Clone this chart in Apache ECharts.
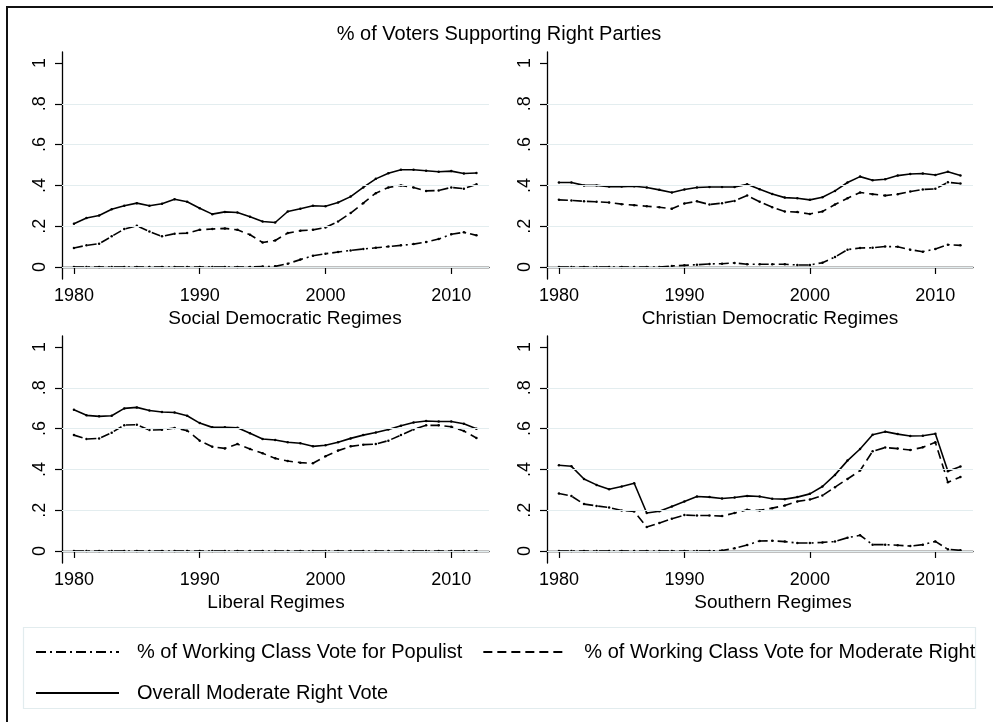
<!DOCTYPE html>
<html>
<head>
<meta charset="utf-8">
<script src="https://cdn.jsdelivr.net/npm/echarts@6/dist/echarts.min.js"></script>
<style>
  html, body { margin: 0; padding: 0; background: #fff; }
  #chart { width: 993px; height: 722px; }
</style>
</head>
<body>
<div id="chart"></div>
<script>
const years = [1980, 1981, 1982, 1983, 1984, 1985, 1986, 1987, 1988, 1989, 1990, 1991, 1992, 1993, 1994, 1995, 1996,
  1997, 1998, 1999, 2000, 2001, 2002, 2003, 2004, 2005, 2006, 2007, 2008, 2009, 2010, 2011, 2012];
const xTicks = [1980, 1990, 2000, 2010];
const yTicks = [0, 0.2, 0.4, 0.6, 0.8, 1];
const gridValues = [0, 0.2, 0.4, 0.6, 0.8];

const seriesNames = [
  "% of Working Class Vote for Populist",
  "% of Working Class Vote for Moderate Right",
  "Overall Moderate Right Vote"
];
const panelTitles = ["Social Democratic Regimes", "Christian Democratic Regimes", "Liberal Regimes", "Southern Regimes"];

// Social Democratic
const sdPop = [0, 0, 0, 0, 0, 0, 0, 0, 0, 0, 0, 0, 0, 0, 0, 0.002, 0.003, 0.016, 0.036, 0.055, 0.065, 0.073, 0.081,
  0.088, 0.094, 0.10, 0.106, 0.112, 0.122, 0.137, 0.16, 0.17, 0.155];
const sdMod = [0.093, 0.106, 0.114, 0.15, 0.186, 0.202, 0.174, 0.15, 0.163, 0.166, 0.182, 0.186, 0.189, 0.182, 0.158,
  0.12, 0.13, 0.166, 0.178, 0.182, 0.194, 0.223, 0.264, 0.313, 0.362, 0.39, 0.40, 0.39, 0.373, 0.375, 0.39, 0.384, 0.405];
const sdAll = [0.212, 0.24, 0.252, 0.283, 0.30, 0.313, 0.30, 0.31, 0.332, 0.32, 0.288, 0.259, 0.27, 0.267, 0.246,
  0.223, 0.218, 0.272, 0.285, 0.30, 0.298, 0.316, 0.345, 0.39, 0.432, 0.459, 0.477, 0.477, 0.472, 0.467, 0.47, 0.458, 0.461];

// Christian Democratic
const cdPop = [0, 0, 0, 0, 0, 0, 0, 0, 0, 0.005, 0.008, 0.011, 0.015, 0.016, 0.02, 0.013, 0.013, 0.013, 0.013, 0.01,
  0.01, 0.021, 0.049, 0.085, 0.093, 0.094, 0.10, 0.099, 0.085, 0.075, 0.088, 0.109, 0.106];
const cdMod = [0.329, 0.326, 0.322, 0.32, 0.316, 0.308, 0.303, 0.298, 0.293, 0.285, 0.311, 0.322, 0.306, 0.313, 0.324,
  0.35, 0.32, 0.293, 0.272, 0.269, 0.26, 0.272, 0.306, 0.337, 0.365, 0.357, 0.35, 0.357, 0.37, 0.38, 0.383, 0.415, 0.409];
const cdAll = [0.414, 0.414, 0.40, 0.40, 0.394, 0.394, 0.396, 0.39, 0.378, 0.365, 0.38, 0.39, 0.392, 0.392, 0.392,
  0.405, 0.381, 0.358, 0.34, 0.337, 0.329, 0.342, 0.373, 0.414, 0.443, 0.425, 0.43, 0.448, 0.456, 0.458, 0.451, 0.467, 0.448];

// Liberal
const libPop = [0, 0, 0, 0, 0, 0, 0, 0, 0, 0, 0, 0, 0, 0, 0, 0, 0, 0, 0, 0, 0, 0, 0, 0, 0, 0, 0, 0, 0, 0, 0, 0, 0];
const libMod = [0.568, 0.549, 0.552, 0.58, 0.617, 0.619, 0.593, 0.594, 0.603, 0.59, 0.541, 0.511, 0.503, 0.524, 0.50,
  0.479, 0.454, 0.441, 0.433, 0.43, 0.464, 0.492, 0.513, 0.521, 0.524, 0.541, 0.568, 0.596, 0.616, 0.616, 0.609, 0.588, 0.554];
const libAll = [0.692, 0.665, 0.66, 0.663, 0.699, 0.704, 0.689, 0.681, 0.679, 0.663, 0.627, 0.606, 0.606, 0.604, 0.577,
  0.549, 0.544, 0.533, 0.528, 0.513, 0.518, 0.533, 0.552, 0.568, 0.581, 0.596, 0.614, 0.63, 0.637, 0.635, 0.635, 0.624, 0.599];

// Southern
const soPop = [0, 0, 0, 0, 0, 0, 0, 0, 0, 0, 0, 0, 0, 0.002, 0.013, 0.029, 0.049, 0.05, 0.046, 0.039, 0.039, 0.042,
  0.046, 0.065, 0.077, 0.031, 0.031, 0.028, 0.024, 0.031, 0.047, 0.008, 0.003];
const soMod = [0.282, 0.269, 0.23, 0.221, 0.213, 0.199, 0.194, 0.117, 0.137, 0.158, 0.176, 0.174, 0.174, 0.171, 0.186,
  0.202, 0.199, 0.21, 0.223, 0.243, 0.252, 0.272, 0.313, 0.353, 0.394, 0.489, 0.507, 0.502, 0.495, 0.508, 0.533, 0.337, 0.363];
const soAll = [0.42, 0.415, 0.353, 0.324, 0.303, 0.316, 0.332, 0.186, 0.195, 0.218, 0.243, 0.267, 0.264, 0.257, 0.262,
  0.27, 0.267, 0.256, 0.254, 0.264, 0.28, 0.316, 0.373, 0.443, 0.50, 0.57, 0.585, 0.573, 0.564, 0.565, 0.575, 0.391, 0.414];

const panels = [
  [sdPop, sdMod, sdAll],
  [cdPop, cdMod, cdAll],
  [libPop, libMod, libAll],
  [soPop, soMod, soAll]
];

const FONT = "'Liberation Sans', Arial, Helvetica, sans-serif";
const dashTypes = [[10, 4, 2, 4], [9, 5], "solid"];

// plot boxes: left, top, width, height
const boxes = [
  { left: 62, top: 52, width: 427, height: 227 },
  { left: 547, top: 52, width: 426, height: 227 },
  { left: 62, top: 336, width: 427, height: 227 },
  { left: 547, top: 336, width: 426, height: 227 }
];
const subtitlePos = [[285, 319], [770, 319], [276, 603], [773, 603]];

const chart = echarts.init(document.getElementById("chart"));

const fmtY = v => (v === 0 ? "0" : v === 1 ? "1" : String(v).replace("0.", "."));

const grids = boxes.map(b => ({ ...b, containLabel: false }));

const xAxes = boxes.map((b, i) => ({
  type: "value",
  gridIndex: i,
  min: 1979.05,
  max: 2013,
  axisLine: { show: true, lineStyle: { color: "#000", width: 1.3 } },
  axisTick: { show: true, length: 7, customValues: xTicks, lineStyle: { color: "#000", width: 1.2 } },
  axisLabel: { customValues: xTicks, margin: 8, color: "#000", fontSize: 18, fontFamily: FONT, formatter: v => String(v) },
  splitLine: { show: false }
}));

const yAxes = boxes.map((b, i) => ({
  type: "value",
  gridIndex: i,
  min: -0.059,
  max: 1.054,
  axisLine: { show: true, lineStyle: { color: "#000", width: 1.3 } },
  axisTick: { show: true, length: 7, customValues: yTicks, lineStyle: { color: "#000", width: 1.2 } },
  axisLabel: { customValues: yTicks, rotate: 90, margin: 13, color: "#000", fontSize: 18, fontFamily: FONT, formatter: fmtY },
  splitLine: { show: false }
}));

const series = [];
panels.forEach((vals, i) => {
  // light grid lines behind the data
  series.push({
    name: "grid" + i,
    type: "line",
    xAxisIndex: i,
    yAxisIndex: i,
    data: [],
    z: 1,
    silent: true,
    markLine: {
      silent: true,
      symbol: "none",
      label: { show: false },
      lineStyle: { color: "#e3edef", width: 1.2, type: "solid" },
      data: gridValues.map(v => ({ yAxis: v }))
    }
  });
  vals.forEach((arr, k) => {
    series.push({
      name: seriesNames[k],
      type: "line",
      xAxisIndex: i,
      yAxisIndex: i,
      z: 3,
      data: years.map((y, j) => [y, arr[j]]),
      symbol: "circle",
      symbolSize: 2.5,
      itemStyle: { color: "#000" },
      lineStyle: { color: "#000", width: 1.6, type: dashTypes[k] },
      animation: false
    });
  });
});

const legendCommon = {
  left: 35,
  padding: 0,
  itemWidth: 83,
  itemHeight: 14,
  itemGap: 20,
  itemStyle: { opacity: 0 },
  textStyle: { color: "#000", fontSize: 20, fontFamily: FONT, padding: [0, 0, 0, 13] },
  selectedMode: false
};

const option = {
  backgroundColor: "#fff",
  animation: false,
  grid: grids,
  xAxis: xAxes,
  yAxis: yAxes,
  legend: [
    { ...legendCommon, top: 642, data: seriesNames.slice(0, 2) },
    { ...legendCommon, top: 683, data: seriesNames.slice(2) }
  ],
  graphic: [
    {
      type: "polyline",
      shape: { points: [[7, 722], [7, 7], [993, 7]] },
      style: { fill: null, stroke: "#111", lineWidth: 2 },
      silent: true
    },
    {
      type: "rect",
      shape: { x: 23.5, y: 627.5, width: 952, height: 81 },
      style: { fill: null, stroke: "#e2ecee", lineWidth: 1.2 },
      silent: true
    },
    {
      type: "text",
      x: 499,
      y: 34,
      style: { text: "% of Voters Supporting Right Parties", fill: "#000", font: "20px " + FONT, textAlign: "center", textVerticalAlign: "middle" }
    },
    ...panelTitles.map((t, i) => ({
      type: "text",
      x: subtitlePos[i][0],
      y: subtitlePos[i][1],
      style: { text: t, fill: "#000", font: "19px " + FONT, textAlign: "center", textVerticalAlign: "middle" }
    }))
  ],
  series
};

chart.setOption(option);
</script>
</body>
</html>
